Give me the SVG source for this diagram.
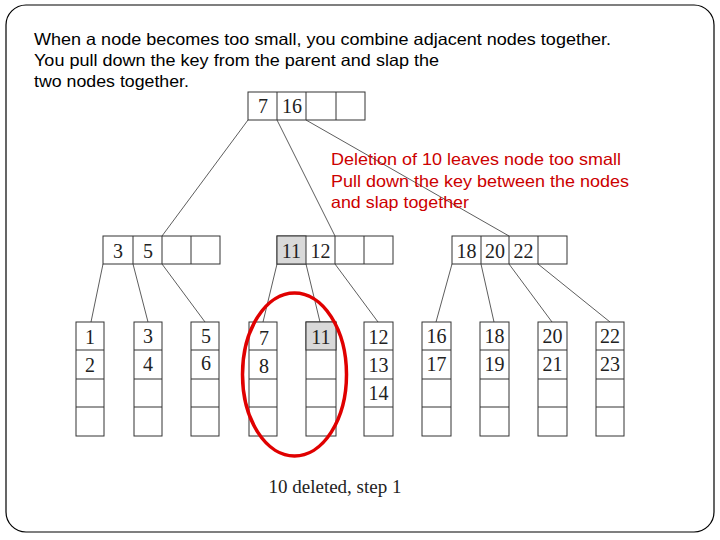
<svg xmlns="http://www.w3.org/2000/svg" width="720" height="540" viewBox="0 0 720 540">
<style>
.cell{fill:#fff;stroke:#333;stroke-width:1}
.gray{fill:#d9d9d9;stroke:#333;stroke-width:1}
.div{stroke:#333;stroke-width:1}
.num{font-family:"Liberation Serif","Times New Roman",serif;font-size:20px;fill:#222;text-anchor:middle}
.note{font-family:"Liberation Sans",Arial,sans-serif;font-size:16.5px;fill:#000}
.red{font-family:"Liberation Sans",Arial,sans-serif;font-size:16.5px;fill:#cc0000}
.edge{stroke:#333;stroke-width:0.8;fill:none}
</style>
<rect x="0" y="0" width="720" height="540" fill="#fff"/>
<rect x="6" y="5" width="708" height="527" rx="20" ry="20" fill="none" stroke="#000" stroke-width="1.2"/>
<g id="intro">
<text class="note" x="34" y="45" textLength="577" lengthAdjust="spacingAndGlyphs">When a node becomes too small, you combine adjacent nodes together.</text>
<text class="note" x="34" y="66" textLength="405" lengthAdjust="spacingAndGlyphs">You pull down the key from the parent and slap the</text>
<text class="note" x="34" y="87" textLength="155" lengthAdjust="spacingAndGlyphs">two nodes together.</text>
</g>
<g id="connectors">
<line class="edge" x1="248" y1="120" x2="162" y2="236"/>
<line class="edge" x1="277" y1="120" x2="335" y2="236"/>
<line class="edge" x1="306" y1="120" x2="509" y2="236"/>
<line class="edge" x1="103" y1="264" x2="91" y2="322"/>
<line class="edge" x1="133" y1="264" x2="148" y2="322"/>
<line class="edge" x1="162" y1="264" x2="205" y2="322"/>
<line class="edge" x1="277" y1="264" x2="263" y2="322"/>
<line class="edge" x1="306" y1="264" x2="320" y2="322"/>
<line class="edge" x1="335" y1="264" x2="378" y2="322"/>
<line class="edge" x1="452" y1="264" x2="436" y2="322"/>
<line class="edge" x1="481" y1="264" x2="494" y2="322"/>
<line class="edge" x1="509" y1="264" x2="552" y2="322"/>
<line class="edge" x1="538" y1="264" x2="610" y2="322"/>
</g>
<g id="root">
<rect class="cell" x="248" y="92" width="117" height="28"/>
<line class="div" x1="277" y1="92" x2="277" y2="120"/>
<line class="div" x1="306" y1="92" x2="306" y2="120"/>
<line class="div" x1="336" y1="92" x2="336" y2="120"/>
<text class="num" x="263" y="113">7</text>
<text class="num" x="292" y="113">16</text>
</g>
<g id="node-left">
<rect class="cell" x="103" y="236" width="117" height="28"/>
<line class="div" x1="133" y1="236" x2="133" y2="264"/>
<line class="div" x1="162" y1="236" x2="162" y2="264"/>
<line class="div" x1="191" y1="236" x2="191" y2="264"/>
<text class="num" x="118" y="258">3</text>
<text class="num" x="148" y="258">5</text>
</g>
<g id="node-middle">
<rect class="cell" x="277" y="236" width="116" height="28"/>
<rect class="gray" x="277" y="236" width="29" height="28"/>
<line class="div" x1="335" y1="236" x2="335" y2="264"/>
<line class="div" x1="364" y1="236" x2="364" y2="264"/>
<text class="num" x="291.5" y="258">11</text>
<text class="num" x="320.5" y="258">12</text>
</g>
<g id="node-right">
<rect class="cell" x="452" y="236" width="115" height="28"/>
<line class="div" x1="481" y1="236" x2="481" y2="264"/>
<line class="div" x1="509" y1="236" x2="509" y2="264"/>
<line class="div" x1="538" y1="236" x2="538" y2="264"/>
<text class="num" x="466.5" y="258">18</text>
<text class="num" x="495" y="258">20</text>
<text class="num" x="523.5" y="258">22</text>
</g>
<g id="leaf1">
<rect class="cell" x="76" y="322" width="28" height="114"/>
<line class="div" x1="76" y1="350" x2="104" y2="350"/><line class="div" x1="76" y1="379" x2="104" y2="379"/><line class="div" x1="76" y1="407" x2="104" y2="407"/>
<text class="num" x="90" y="344">1</text><text class="num" x="90" y="372">2</text>
</g>
<g id="leaf2">
<rect class="cell" x="134" y="322" width="28" height="114"/>
<line class="div" x1="134" y1="350" x2="162" y2="350"/><line class="div" x1="134" y1="379" x2="162" y2="379"/><line class="div" x1="134" y1="407" x2="162" y2="407"/>
<text class="num" x="148" y="343">3</text><text class="num" x="148" y="371">4</text>
</g>
<g id="leaf3">
<rect class="cell" x="191" y="322" width="28" height="114"/>
<line class="div" x1="191" y1="350" x2="219" y2="350"/><line class="div" x1="191" y1="379" x2="219" y2="379"/><line class="div" x1="191" y1="407" x2="219" y2="407"/>
<text class="num" x="206" y="343">5</text><text class="num" x="206" y="370">6</text>
</g>
<g id="leaf4">
<rect class="cell" x="249" y="322" width="28" height="114"/>
<line class="div" x1="249" y1="350" x2="277" y2="350"/><line class="div" x1="249" y1="379" x2="277" y2="379"/><line class="div" x1="249" y1="407" x2="277" y2="407"/>
<text class="num" x="264" y="345">7</text><text class="num" x="264" y="373">8</text>
</g>
<g id="leaf5">
<rect class="cell" x="306" y="322" width="30" height="114"/>
<rect class="gray" x="306" y="322" width="30" height="28"/>
<line class="div" x1="306" y1="379" x2="336" y2="379"/><line class="div" x1="306" y1="407" x2="336" y2="407"/>
<text class="num" x="321" y="344">11</text>
</g>
<g id="leaf6">
<rect class="cell" x="364" y="322" width="29" height="114"/>
<line class="div" x1="364" y1="350" x2="393" y2="350"/><line class="div" x1="364" y1="379" x2="393" y2="379"/><line class="div" x1="364" y1="407" x2="393" y2="407"/>
<text class="num" x="378.5" y="344">12</text><text class="num" x="378.5" y="372">13</text><text class="num" x="378.5" y="400">14</text>
</g>
<g id="leaf7">
<rect class="cell" x="422" y="322" width="29" height="114"/>
<line class="div" x1="422" y1="350" x2="451" y2="350"/><line class="div" x1="422" y1="379" x2="451" y2="379"/><line class="div" x1="422" y1="407" x2="451" y2="407"/>
<text class="num" x="436.5" y="343">16</text><text class="num" x="436.5" y="371">17</text>
</g>
<g id="leaf8">
<rect class="cell" x="480" y="322" width="29" height="114"/>
<line class="div" x1="480" y1="350" x2="509" y2="350"/><line class="div" x1="480" y1="379" x2="509" y2="379"/><line class="div" x1="480" y1="407" x2="509" y2="407"/>
<text class="num" x="494.5" y="343">18</text><text class="num" x="494.5" y="371">19</text>
</g>
<g id="leaf9">
<rect class="cell" x="538" y="322" width="29" height="114"/>
<line class="div" x1="538" y1="350" x2="567" y2="350"/><line class="div" x1="538" y1="379" x2="567" y2="379"/><line class="div" x1="538" y1="407" x2="567" y2="407"/>
<text class="num" x="552.5" y="343">20</text><text class="num" x="552.5" y="371">21</text>
</g>
<g id="leaf10">
<rect class="cell" x="596" y="322" width="28" height="114"/>
<line class="div" x1="596" y1="350" x2="624" y2="350"/><line class="div" x1="596" y1="379" x2="624" y2="379"/><line class="div" x1="596" y1="407" x2="624" y2="407"/>
<text class="num" x="610" y="343">22</text><text class="num" x="610" y="371">23</text>
</g>
<g id="note">
<text class="red" x="331" y="165" textLength="290" lengthAdjust="spacingAndGlyphs">Deletion of 10 leaves node too small</text>
<text class="red" x="331" y="187" textLength="298" lengthAdjust="spacingAndGlyphs">Pull down the key between the nodes</text>
<text class="red" x="331" y="208" textLength="138" lengthAdjust="spacingAndGlyphs">and slap together</text>
</g>
<ellipse id="highlight" cx="294.5" cy="374.5" rx="52" ry="81.5" fill="none" stroke="#e00000" stroke-width="3.5"/>
<text id="caption" x="335" y="493" font-family="'Liberation Serif','Times New Roman',serif" font-size="19" fill="#222" text-anchor="middle">10 deleted, step 1</text>
</svg>
